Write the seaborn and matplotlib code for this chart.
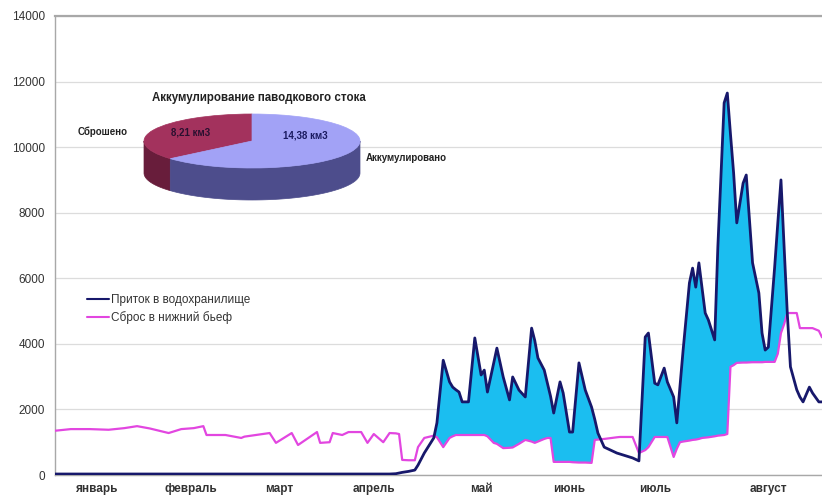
import numpy as np
import pandas as pd
import matplotlib
matplotlib.use("Agg")
import matplotlib.pyplot as plt
from matplotlib.patches import Wedge, Polygon
import seaborn as sns

# Daily flow, m3/s (day 0 = 1 January); values at breakpoints of the hydrograph
day = [0, 5, 11, 17, 22, 26, 30, 36, 40, 44, 47, 48, 54, 59, 60, 68, 70, 75, 77,
       83, 84, 87, 88, 91, 93, 97, 99, 101, 104, 106, 108, 109, 110, 112, 114,
       115, 117, 120, 121, 123, 125, 126, 127, 128, 129, 131, 133, 135, 136, 137,
       139, 140, 142, 144, 145, 147, 149, 151, 152, 153, 155, 156, 157, 158, 160,
       161, 163, 164, 166, 168, 170, 171, 172, 174, 178, 179, 182, 183, 185, 187,
       188, 190, 191, 193, 194, 196, 197, 198, 199, 201, 202, 203, 204, 205, 206,
       207, 209, 210, 212, 213, 214, 215, 216, 218, 219, 221, 223, 224, 225, 226,
       228, 229, 230, 231, 232, 233, 235, 236, 237, 239, 240, 242, 243]

inflow = [30, 30, 30, 30, 30, 30, 30, 30, 30, 30, 30, 30, 30, 30, 30, 30, 30, 30, 30,
          30, 30, 30, 30, 30, 30, 30, 30, 30, 30, 30, 40, 60, 80, 110, 150,
          300, 670, 1130, 1590, 3500, 2840, 2680, 2600, 2530, 2230, 2230, 4180, 3050, 3200, 2530,
          3420, 3870, 2990, 2290, 2990, 2590, 2380, 4480, 4100, 3570, 3200, 2800, 2400, 1890, 2840,
          2500, 1310, 1310, 3420, 2590, 2070, 1700, 1280, 850, 670, 640, 550, 520, 430, 4210,
          4330, 2800, 2750, 3260, 2840, 2380, 1590, 2700, 3810, 5860, 6310, 5730, 6470, 5700, 4940,
          4730, 4120, 6950, 11350, 11650, 10400, 9210, 7690, 8900, 9150, 6470, 5550, 4330, 3810, 3900,
          6340, 7690, 9000, 6950, 4940, 3300, 2600, 2380, 2230, 2680, 2500, 2230, 2230]

outflow = [1350, 1400, 1400, 1380, 1430, 1490, 1420, 1280, 1400, 1430, 1490, 1220, 1220, 1130, 1170, 1280, 980, 1280, 915,
           1310, 980, 1000, 1280, 1220, 1310, 1310, 980, 1250, 1000, 1280, 1270, 1250, 460, 450, 450,
           850, 1130, 1200, 1150, 850, 1130, 1180, 1220, 1220, 1220, 1220, 1220, 1220, 1220, 1180,
           980, 950, 820, 830, 840, 950, 1070, 1020, 980, 1020, 1100, 1130, 1130, 400, 400,
           400, 400, 390, 380, 380, 370, 1070, 1080, 1100, 1150, 1160, 1160, 1160, 670, 760,
           850, 1160, 1160, 1160, 1160, 550, 800, 1000, 1020, 1050, 1070, 1080, 1100, 1130, 1140,
           1150, 1180, 1200, 1220, 1250, 3300, 3350, 3420, 3430, 3430, 3440, 3440, 3440, 3450, 3450,
           3450, 3700, 4330, 4600, 4940, 4940, 4940, 4480, 4480, 4480, 4480, 4400, 4200]

months = ["январь", "февраль", "март", "апрель", "май", "июнь", "июль", "август"]
month_pos = [13, 43, 71, 101, 135, 163, 190, 226]
y_ticks = [0, 2000, 4000, 6000, 8000, 10000, 12000, 14000]

series_names = ["Приток в водохранилище", "Сброс в нижний бьеф"]

pie_title = "Аккумулирование паводкового стока"
pie_names = ["Сброшено", "Аккумулировано"]
pie_values = [8.21, 14.38]
pie_value_text = ["8,21 км3", "14,38 км3"]

# ---------------------------------------------------------------- style
sns.set_style("white")
plt.rcParams["font.family"] = ["Liberation Sans", "DejaVu Sans"]

C_IN = "#17186b"
C_OUT = "#e246e0"
C_FILL = "#1bbef0"

fig = plt.figure(figsize=(8.22, 4.97), dpi=100)
ax = fig.add_axes([55 / 822, 1 - 475 / 497, 767 / 822, 459 / 497])

df = pd.DataFrame({"day": day, series_names[0]: inflow, series_names[1]: outflow})
long = df.melt(id_vars="day", var_name="series", value_name="flow")

q_in = np.array(inflow, dtype=float)
q_out = np.array(outflow, dtype=float)
ax.fill_between(df["day"], q_in, q_out, where=q_in > q_out, interpolate=True,
                color=C_FILL, lw=0, zorder=2)

sns.lineplot(data=long, x="day", y="flow", hue="series",
             palette={series_names[0]: C_IN, series_names[1]: C_OUT},
             hue_order=series_names, ax=ax, legend=True, zorder=3)
for line, lw in zip(ax.lines, [2.0, 1.6]):
    line.set_linewidth(lw)
    line.set_solid_joinstyle("round")
    line.set_solid_capstyle("round")
ax.lines[0].set_zorder(4)

ax.set_xlim(0, 243)
ax.set_ylim(0, 14000)
ax.set_yticks(y_ticks)
ax.set_yticklabels([str(v) for v in y_ticks], fontsize=8.5, color="#333333")
ax.set_xticks(month_pos)
ax.set_xticklabels(months, fontsize=8.5, fontweight="bold", color="#333333")
ax.tick_params(axis="both", length=0, pad=6)
ax.tick_params(axis="y", pad=7)
ax.set_xlabel("")
ax.set_ylabel("")
ax.yaxis.grid(True, color="#dcdcdc", lw=0.9, zorder=0)
ax.set_axisbelow(True)
for side in ["left", "bottom", "top"]:
    ax.spines[side].set_color("#a8a8a8")
    ax.spines[side].set_linewidth(1.0)
ax.spines["top"].set_linewidth(1.6)
ax.spines["right"].set_visible(False)

leg = ax.legend(loc="upper left", bbox_to_anchor=(0.035, 0.405), frameon=False,
                fontsize=8.5, handlelength=1.9, handletextpad=0.15,
                labelspacing=0.45, borderaxespad=0)
for t in leg.get_texts():
    t.set_color("#333333")

# ---------------------------------------------------------------- 3D pie inset
cx_px, cy_px, rx_px, ry_px, depth_px = 252, 141, 108, 27, 32
l_px, r_px, t_px, b_px = 70, 490, 85, 212
pax = fig.add_axes([l_px / 822, 1 - b_px / 497, (r_px - l_px) / 822, (b_px - t_px) / 497])
pax.set_xlim((l_px - cx_px) / rx_px, (r_px - cx_px) / rx_px)
pax.set_ylim((cy_px - b_px) / ry_px, (cy_px - t_px) / ry_px)
pax.set_aspect("auto")
pax.axis("off")
D = depth_px / ry_px

total = sum(pie_values)
spans = [360 * v / total for v in pie_values]
start = 90.0
angles = [(start, start + spans[0]), (start + spans[0], start + spans[0] + spans[1])]
top_colors = ["#a3325d", "#a2a2f6"]
side_colors = ["#681d3b", "#4d4d8c"]

for (a0, a1), sc in zip(angles, side_colors):
    for k in range(-1, 2):
        lo = max(a0, 180 + 360 * k)
        hi = min(a1, 360 + 360 * k)
        if hi <= lo:
            continue
        t = np.radians(np.linspace(lo, hi, 80))
        xs, ys = np.cos(t), np.sin(t)
        pts = np.column_stack([np.r_[xs, xs[::-1]], np.r_[ys, ys[::-1] - D]])
        pax.add_patch(Polygon(pts, closed=True, facecolor=sc, edgecolor=sc, lw=0.5, zorder=1))

for (a0, a1), tc in zip(angles, top_colors):
    pax.add_patch(Wedge((0, 0), 1, a0, a1, facecolor=tc, edgecolor=tc, lw=0.5, zorder=2))

pax.text(0.06, 1.58, pie_title, ha="center", va="center", fontsize=8.3,
         fontweight="bold", color="#222222")
pax.text(-0.57, 0.30, pie_value_text[0], ha="center", va="center", fontsize=7,
         fontweight="bold", color="#2a1030", zorder=3)
pax.text(0.49, 0.22, pie_value_text[1], ha="center", va="center", fontsize=7,
         fontweight="bold", color="#1a1a60", zorder=3)
pax.text(-1.38, 0.33, pie_names[0], ha="center", va="center", fontsize=7,
         fontweight="bold", color="#222222")
pax.text(1.05, -0.63, pie_names[1], ha="left", va="center", fontsize=7,
         fontweight="bold", color="#222222")

fig.savefig("out.png", dpi=100)
